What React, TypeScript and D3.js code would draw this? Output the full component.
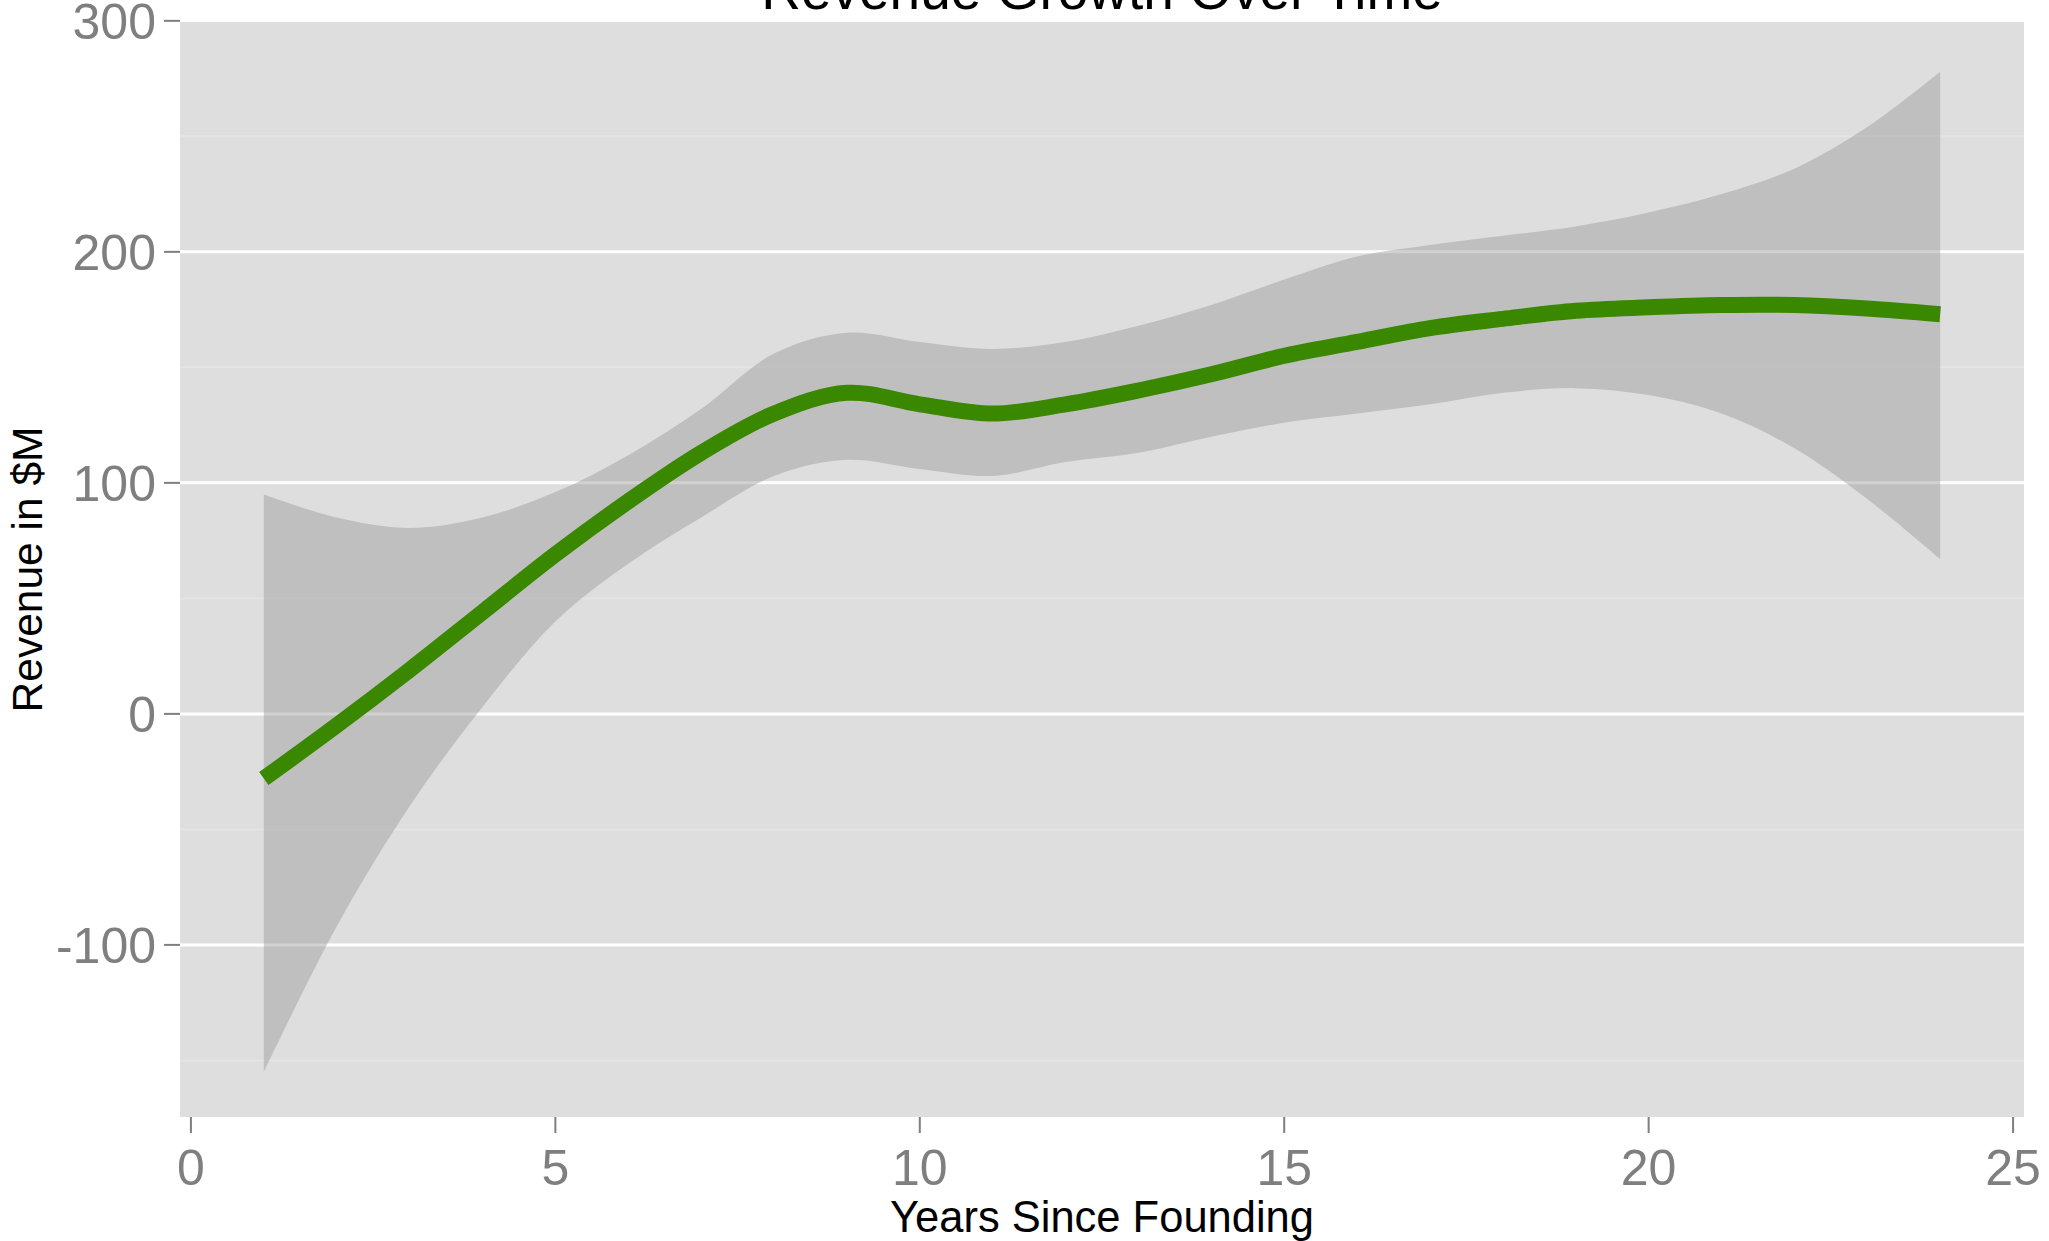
import * as d3 from "d3";

const years = [1, 2, 3, 4, 5, 6, 7, 8, 9, 10, 11, 12, 13, 14, 15, 16, 17, 18, 19, 20, 21, 22, 23, 24];
const fitValues = [-28, -5, 19, 44, 69, 92, 113, 130, 139, 134, 130, 134, 140, 147, 155, 161, 167, 171, 174.5, 176, 177, 177, 175.5, 173];
const upperValues = [95, 85, 80.5, 85, 96, 112, 132, 156, 165, 161, 158, 161, 168, 177, 188, 198, 203, 207, 211, 217, 225, 236, 254, 278];
const lowerValues = [-155, -92, -40, 3, 40, 65, 85, 103, 110, 106, 103, 109, 113, 120, 126, 130, 134, 139, 141, 138, 130, 115, 93, 67];

const xTicks = [0, 5, 10, 15, 20, 25];
const yTicks = [-100, 0, 100, 200, 300];
const yMinor = [-150, -50, 50, 150, 250];

const chartTitle = "Revenue Growth Over Time";
const xTitle = "Years Since Founding";
const yTitle = "Revenue in $M";

export default function App() {
  const width = 2049;
  const height = 1241;
  const panel = { left: 180, right: 2024, top: 22, bottom: 1117 };

  const x = d3.scaleLinear().domain([-0.15, 25.15]).range([panel.left, panel.right]);
  const y = d3.scaleLinear().domain([-174.5, 299.5]).range([panel.bottom, panel.top]);

  const rows = years.map((yr, i) => ({ yr, fit: fitValues[i], lo: lowerValues[i], hi: upperValues[i] }));

  const band = d3.area<any>()
    .x(d => x(d.yr))
    .y0(d => y(d.lo))
    .y1(d => y(d.hi))
    .curve(d3.curveCatmullRom.alpha(0.5));

  const line = d3.line<any>()
    .x(d => x(d.yr))
    .y(d => y(d.fit))
    .curve(d3.curveCatmullRom.alpha(0.5));

  const font = "'Liberation Sans', Arial, sans-serif";

  return (
    <svg width={width} height={height} style={{ position: "absolute", left: 0, top: 0, background: "#fff" }}
      fontFamily={font}>
      <defs>
        <clipPath id="panel-clip">
          <rect x={panel.left} y={panel.top} width={panel.right - panel.left} height={panel.bottom - panel.top} />
        </clipPath>
      </defs>

      <rect x={panel.left} y={panel.top} width={panel.right - panel.left} height={panel.bottom - panel.top} fill="#dedede" />

      {yMinor.map(v => (
        <line key={"m" + v} x1={panel.left} x2={panel.right} y1={y(v)} y2={y(v)} stroke="#e4e4e4" strokeWidth={2} />
      ))}
      {yTicks.filter(v => v < 300).map(v => (
        <line key={"g" + v} x1={panel.left} x2={panel.right} y1={y(v)} y2={y(v)} stroke="#fff" strokeWidth={3} />
      ))}

      <g clipPath="url(#panel-clip)">
        <path d={band(rows) ?? ""} fill="#999" fillOpacity={0.45} />
        <path d={line(rows) ?? ""} fill="none" stroke="#3a8700" strokeWidth={16} />
      </g>

      {/* y axis */}
      {yTicks.map(v => (
        <g key={"y" + v}>
          <line x1={panel.left - 16} x2={panel.left} y1={y(v)} y2={y(v)} stroke="#7f7f7f" strokeWidth={2} />
          <text x={panel.left - 24} y={y(v)} dy="0.36em" textAnchor="end" fontSize={50} fill="#7f7f7f">{v}</text>
        </g>
      ))}

      {/* x axis */}
      {xTicks.map(v => (
        <g key={"x" + v}>
          <line x1={x(v)} x2={x(v)} y1={panel.bottom} y2={panel.bottom + 16} stroke="#7f7f7f" strokeWidth={2} />
          <text x={x(v)} y={1185} textAnchor="middle" fontSize={50} fill="#7f7f7f">{v}</text>
        </g>
      ))}

      <text x={(panel.left + panel.right) / 2} y={1232} textAnchor="middle" fontSize={43.5} fill="#000">{xTitle}</text>
      <text transform={`translate(42,${(panel.top + panel.bottom) / 2}) rotate(-90)`} textAnchor="middle" fontSize={42.5} fill="#000">{yTitle}</text>
      <text x={(panel.left + panel.right) / 2} y={9} textAnchor="middle" fontSize={55} fill="#000">{chartTitle}</text>
    </svg>
  );
}
